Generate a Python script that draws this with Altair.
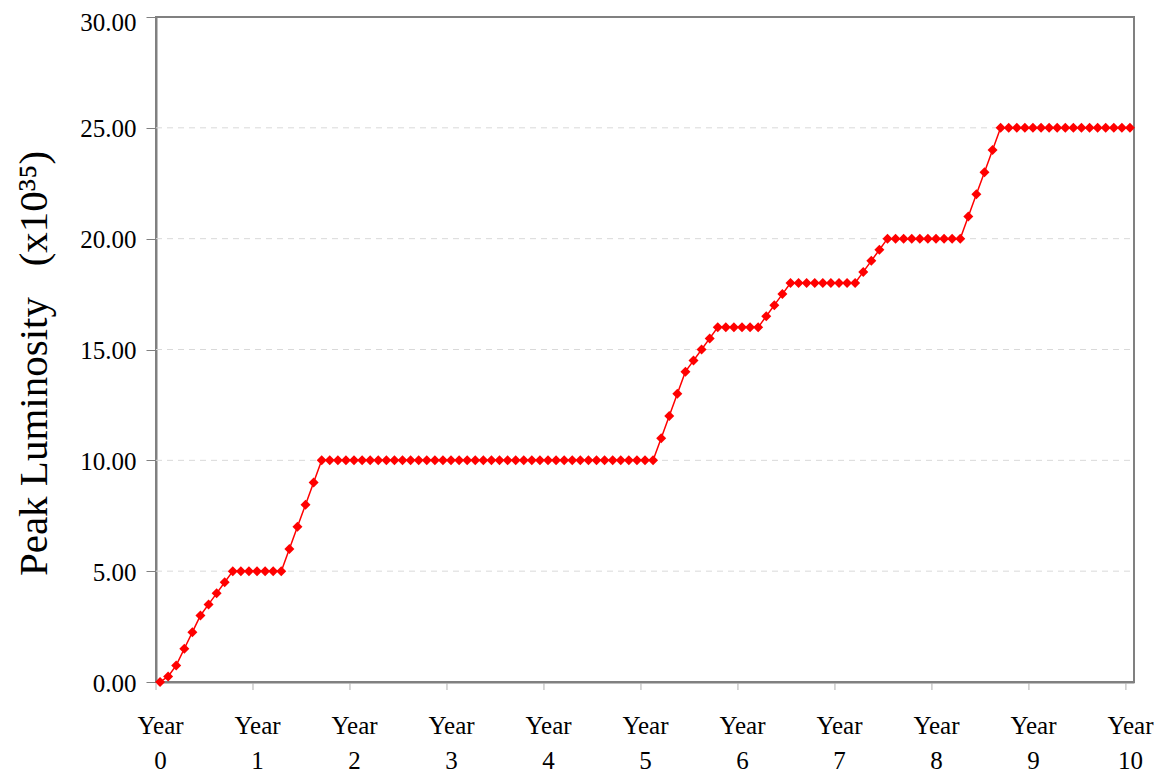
import altair as alt
import pandas as pd

# Monthly index (0 = start of Year 0, 120 = Year 10)
months = list(range(121))

# Peak luminosity (x10^35), one value per month
luminosity = [
    0.0, 0.25, 0.75, 1.5, 2.25, 3.0, 3.5, 4.0, 4.5,
    5, 5, 5, 5, 5, 5, 5,
    6, 7, 8, 9,
    10, 10, 10, 10, 10, 10, 10, 10, 10, 10,
    10, 10, 10, 10, 10, 10, 10, 10, 10, 10,
    10, 10, 10, 10, 10, 10, 10, 10, 10, 10,
    10, 10, 10, 10, 10, 10, 10, 10, 10, 10,
    10, 10,
    11, 12, 13, 14, 14.5, 15, 15.5,
    16, 16, 16, 16, 16, 16,
    16.5, 17, 17.5,
    18, 18, 18, 18, 18, 18, 18, 18, 18,
    18.5, 19, 19.5,
    20, 20, 20, 20, 20, 20, 20, 20, 20, 20,
    21, 22, 23, 24,
    25, 25, 25, 25, 25, 25, 25, 25, 25, 25,
    25, 25, 25, 25, 25, 25, 25,
]

# Year label positions (months) and category-boundary tick positions
year_labels = [0, 12, 24, 36, 48, 60, 72, 84, 96, 108, 120]
year_ticks = [-0.5, 11.5, 23.5, 35.5, 47.5, 59.5, 71.5, 83.5, 95.5, 107.5, 119.5]
y_ticks = [0, 5, 10, 15, 20, 25, 30]
y_grid = [5, 10, 15, 20, 25]

df = pd.DataFrame({"month": months, "lum": luminosity})
tick_df = pd.DataFrame({"month": year_ticks})
grid_df = pd.DataFrame({"lum": y_grid})

FONT = "Liberation Serif"
GRAY = "#808080"
H = 665
NB = "\u00a0"

x_scale = alt.Scale(domain=[-0.5, 120.5], nice=False, zero=False)
y_scale = alt.Scale(domain=[0, 30], nice=False)

x_enc = alt.X(
    "month:Q",
    scale=x_scale,
    axis=alt.Axis(
        values=year_labels,
        labelExpr="['Year', '' + round(datum.value / 12)]",
        labelFlush=False,
        labelOverlap=False,
        labelPadding=31,
        labelLineHeight=35,
        labelFont=FONT,
        labelFontSize=25,
        labelColor="black",
        ticks=False,
        domainColor=GRAY,
        domainWidth=2,
        grid=False,
        title=None,
    ),
)

y_enc = alt.Y(
    "lum:Q",
    scale=y_scale,
    axis=alt.Axis(
        values=y_ticks,
        format=".2f",
        labelFont=FONT,
        labelFontSize=25,
        labelColor="black",
        labelPadding=10,
        labelOffset={"condition": {"test": "datum.value == 30", "value": 5}, "value": 1},
        tickSize=10,
        tickColor=GRAY,
        tickWidth=1,
        domainColor=GRAY,
        domainWidth=2,
        grid=False,
        title="Peak Luminosity" + NB * 3 + "(x10\u00b3\u2075)",
        titleFont=FONT,
        titleFontSize=41,
        titleFontWeight="normal",
        titleColor="black",
        titleAngle=270,
        titleAlign="center",
        titleBaseline="middle",
        titleX=-122,
        titleY=346,
    ),
)

grid = (
    alt.Chart(grid_df)
    .mark_rule(color="#d9d9d9", strokeWidth=1, strokeDash=[6, 5])
    .encode(y=alt.Y("lum:Q", scale=y_scale), x=alt.value(0), x2=alt.value(978))
)

base = alt.Chart(df)
line = base.mark_line(color="#FF0000", strokeWidth=1.5).encode(x=x_enc, y=y_enc)
pts = base.mark_point(
    shape="diamond", filled=True, color="#FF0000", size=100, opacity=1
).encode(x=x_enc, y=y_enc)

ticks = (
    alt.Chart(tick_df)
    .mark_rule(color="#b0b0b0", strokeWidth=1)
    .encode(
        x=alt.X("month:Q", scale=x_scale),
        y=alt.value(H + 1),
        y2=alt.value(H + 8),
    )
)

chart = (
    alt.layer(grid, line, pts, ticks)
    .properties(
        width=978,
        height=H,
        autosize=alt.AutoSizeParams(type="none"),
        padding={"left": 148, "top": 9, "right": 22, "bottom": 91},
        background="white",
    )
    .configure_view(stroke=GRAY, strokeWidth=2)
)

chart.save("out.html", embed_options={"renderer": "svg", "actions": False})
